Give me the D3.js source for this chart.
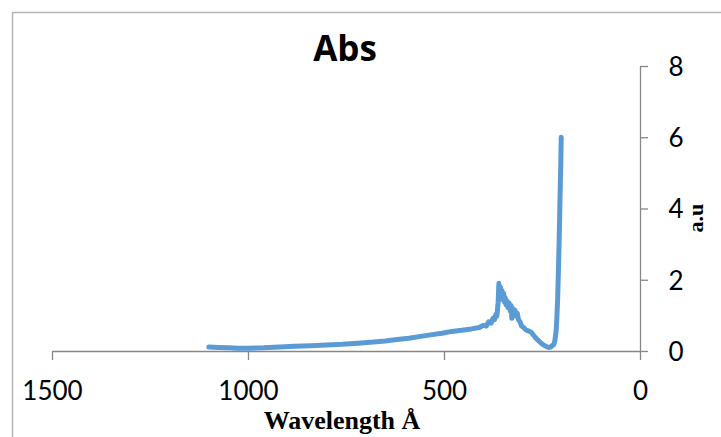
<!DOCTYPE html>
<html>
<head>
<meta charset="utf-8">
<script src="https://cdn.jsdelivr.net/npm/d3@7"></script>
<style>
  body { margin: 0; background: #fff; }
  svg { display: block; }
</style>
</head>
<body>
<svg id="chart"></svg>
<script>
// wavelength (Å) and absorbance (a.u)
var wavelength = [1100, 1075, 1050, 1025, 1000, 960, 920, 880, 840, 800, 760, 720, 680, 650, 620, 590, 560, 530, 505, 480, 455, 430, 410, 400, 392, 386, 380, 375, 371, 368, 365, 362, 360, 358, 356, 354, 352, 350, 348, 346, 344, 342, 340, 337, 334, 331, 329, 327, 325, 322, 319, 316, 313, 310, 306, 302, 297, 292, 287, 282, 277, 272, 267, 262, 256, 250, 244, 238, 233, 228, 224, 220, 217, 214, 212, 210, 208, 206, 204, 202, 201];
var absorb = [0.11, 0.10, 0.09, 0.08, 0.08, 0.09, 0.11, 0.13, 0.15, 0.17, 0.19, 0.22, 0.25, 0.28, 0.32, 0.36, 0.41, 0.46, 0.50, 0.55, 0.58, 0.62, 0.66, 0.72, 0.70, 0.82, 0.78, 0.92, 0.88, 1.02, 0.98, 1.35, 1.90, 1.55, 1.80, 1.45, 1.70, 1.52, 1.62, 1.38, 1.50, 1.30, 1.42, 1.22, 1.35, 1.12, 1.28, 0.92, 1.20, 1.05, 1.15, 0.98, 1.06, 0.88, 0.82, 0.70, 0.66, 0.60, 0.57, 0.55, 0.52, 0.45, 0.38, 0.32, 0.26, 0.20, 0.16, 0.12, 0.10, 0.11, 0.15, 0.18, 0.30, 0.55, 0.95, 1.50, 2.30, 3.20, 4.30, 5.30, 6.00];
var xTicks = [1500, 1000, 500, 0];
var yTicks = [0, 2, 4, 6, 8];

var width = 721, height = 437;
var size = { left: 52, right: 640, top: 66, bottom: 351 };

var svg = d3.select("#chart")
    .attr("width", width)
    .attr("height", height);

// chart area frame (only the top and left edges are in view)
svg.append("path")
    .attr("d", "M12.5," + height + "V12.5H" + width)
    .attr("fill", "none")
    .attr("stroke", "#b4b4b4")
    .attr("stroke-width", 1.5);

var x = d3.scaleLinear()
    .domain([1500, 0])
    .range([size.left, size.right]);

var y = d3.scaleLinear()
    .domain([0, 8])
    .range([size.bottom, size.top]);

var tickFont = "Lato, 'Open Sans', sans-serif";

// x axis
var xAxis = svg.append("g")
    .attr("transform", "translate(0," + size.bottom + ")")
    .call(d3.axisBottom(x).tickValues(xTicks).tickFormat(d3.format("d")).tickSize(9).tickSizeOuter(0));
xAxis.select(".domain").attr("stroke", "#878787").attr("stroke-width", 1.3);
xAxis.selectAll(".tick line").attr("stroke", "#878787").attr("stroke-width", 1.3);
xAxis.selectAll(".tick text")
    .attr("y", 49)
    .attr("dy", 0)
    .style("font-family", tickFont)
    .style("font-size", "26px")
    .attr("fill", "#000");

// y axis on the right
var yAxis = svg.append("g")
    .attr("transform", "translate(" + size.right + ",0)")
    .call(d3.axisRight(y).tickValues(yTicks).tickFormat(d3.format("d")).tickSize(8).tickSizeOuter(0));
yAxis.select(".domain").attr("stroke", "#878787").attr("stroke-width", 1.3);
yAxis.selectAll(".tick line").attr("stroke", "#878787").attr("stroke-width", 1.3);
yAxis.selectAll(".tick text")
    .attr("x", 36)
    .attr("dy", "0.36em")
    .attr("text-anchor", "middle")
    .style("font-family", tickFont)
    .style("font-size", "26px")
    .attr("fill", "#000");

// the spectrum
var line = d3.line()
    .x(function(d, i) { return x(wavelength[i]); })
    .y(function(d) { return y(d); });

svg.append("path")
    .datum(absorb)
    .attr("d", line)
    .attr("fill", "none")
    .attr("stroke", "#5b9bd5")
    .attr("stroke-width", 5)
    .attr("stroke-linejoin", "round")
    .attr("stroke-linecap", "round");

// title and axis titles
svg.append("text")
    .attr("x", 345)
    .attr("y", 61)
    .attr("text-anchor", "middle")
    .style("font-family", "'Open Sans', sans-serif")
    .style("font-weight", "bold")
    .style("font-size", "35px")
    .text("Abs");

svg.append("text")
    .attr("x", 342)
    .attr("y", 429)
    .attr("text-anchor", "middle")
    .style("font-family", "'Liberation Serif', serif")
    .style("font-weight", "bold")
    .style("font-size", "26px")
    .text("Wavelength Å");

svg.append("text")
    .attr("transform", "translate(703,218) rotate(-90)")
    .attr("text-anchor", "middle")
    .style("font-family", "'Liberation Serif', serif")
    .style("font-weight", "bold")
    .style("font-size", "22px")
    .text("a.u");
</script>
</body>
</html>
